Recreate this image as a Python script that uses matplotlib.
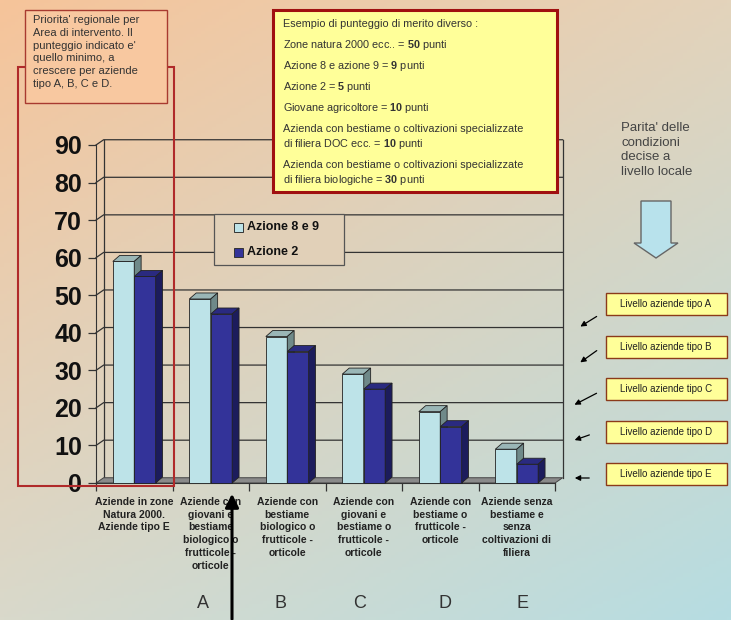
import numpy as np
import matplotlib
matplotlib.use('Agg')
import matplotlib.pyplot as plt
from matplotlib.patches import Rectangle, Polygon
from matplotlib.colors import to_rgb

plt.rcParams['font.family'] = ['Liberation Sans', 'DejaVu Sans']
plt.rcParams['mathtext.fontset'] = 'custom'
plt.rcParams['mathtext.rm'] = 'Liberation Sans'
plt.rcParams['mathtext.bf'] = 'Liberation Sans:bold'

# data
categories = ['Aziende in zone\nNatura 2000.\nAziende tipo E',
              'Aziende con\ngiovani e\nbestiame\nbiologico o\nfrutticole -\norticole',
              'Aziende con\nbestiame\nbiologico o\nfrutticole -\norticole',
              'Aziende con\ngiovani e\nbestiame o\nfrutticole -\norticole',
              'Aziende con\nbestiame o\nfrutticole -\norticole',
              'Aziende senza\nbestiame e\nsenza\ncoltivazioni di\nfiliera']
azione_8_9 = [59, 49, 39, 29, 19, 9]
azione_2 = [55, 45, 35, 25, 15, 5]
series_names = ['Azione 8 e 9', 'Azione 2']
letters = ['A', 'B', 'C', 'D', 'E']
yticks = [0, 10, 20, 30, 40, 50, 60, 70, 80, 90]
livelli = ['Livello aziende tipo A', 'Livello aziende tipo B', 'Livello aziende tipo C',
           'Livello aziende tipo D', 'Livello aziende tipo E']

W, H = 731, 620
fig = plt.figure(figsize=(W / 100, H / 100), dpi=100)

# background gradient (bilinear between the corners)
tl, tr = np.array(to_rgb('#f6c49a')), np.array(to_rgb('#e3d3bb'))
bl, br = np.array(to_rgb('#d9d9cb')), np.array(to_rgb('#b6dde2'))


def bg(x, y):
    u, v = x / W, y / H
    return tuple((1 - u) * (1 - v) * tl + u * (1 - v) * tr + (1 - u) * v * bl + u * v * br)


uu, vv = np.meshgrid(np.linspace(0, 1, 200), np.linspace(0, 1, 200))
img = ((1 - uu) * (1 - vv))[..., None] * tl + (uu * (1 - vv))[..., None] * tr \
    + ((1 - uu) * vv)[..., None] * bl + (uu * vv)[..., None] * br
ax_bg = fig.add_axes([0, 0, 1, 1], zorder=0)
ax_bg.imshow(img, extent=(0, W, H, 0), aspect='auto')
ax_bg.set_xlim(0, W)
ax_bg.set_ylim(H, 0)
ax_bg.axis('off')

# chart axes
x0, x1, y0, y1 = 96, 555, 483, 145
ax = fig.add_axes([x0 / W, (H - y0) / H, (x1 - x0) / W, (y0 - y1) / H], zorder=1)
ax.set_facecolor('none')
ax.set_xlim(0, 6)
ax.set_ylim(0, 90)
dx, dy = 0.1, 1.4
bdx, bdy = 0.09, 1.6
line_c = '#333333'

# back wall, gridlines and floor
for v in yticks[1:]:
    ax.plot([0, dx, 6 + dx], [v, v + dy, v + dy], color=line_c, lw=0.9, clip_on=False, zorder=1)
ax.plot([dx, dx], [dy, 90 + dy], color=line_c, lw=0.9, clip_on=False, zorder=1)
ax.plot([6 + dx, 6 + dx], [dy, 90 + dy], color=line_c, lw=0.9, clip_on=False, zorder=1)
ax.add_patch(Polygon([(0, 0), (6, 0), (6 + dx, dy), (dx, dy)], closed=True,
                     facecolor='#8a8a8a', edgecolor='#444444', lw=0.7, clip_on=False, zorder=2))

# 3d-looking bars
bw = 0.28
styles = [('#bde3e8', '#9ab6b6', '#6f8989'), ('#333399', '#2a2a80', '#1c1c5c')]
for i in range(6):
    for k, vals in enumerate([azione_8_9, azione_2]):
        left = i + 0.22 + k * bw
        h = vals[i]
        front, top, side = styles[k]
        ax.bar(left, h, width=bw, align='edge', color=front, edgecolor='#222222',
               lw=0.6, clip_on=False, zorder=3 + k)
        ax.add_patch(Polygon([(left, h), (left + bw, h), (left + bw + bdx, h + bdy), (left + bdx, h + bdy)],
                             closed=True, facecolor=top, edgecolor='#222222', lw=0.6,
                             clip_on=False, zorder=3 + k))
        ax.add_patch(Polygon([(left + bw, 0), (left + bw + bdx, bdy), (left + bw + bdx, h + bdy), (left + bw, h)],
                             closed=True, facecolor=side, edgecolor='#222222', lw=0.6,
                             clip_on=False, zorder=3 + k))

for s in ['top', 'right']:
    ax.spines[s].set_visible(False)
ax.spines['left'].set_color(line_c)
ax.spines['bottom'].set_color(line_c)
ax.set_yticks(yticks)
ax.set_yticklabels([str(v) for v in yticks], fontsize=18, fontweight='bold', color='#111111')
ax.tick_params(axis='y', direction='out', length=6, width=0.9, color=line_c, pad=4)
ax.set_xticks(range(7))
ax.set_xticklabels([''] * 7)
ax.tick_params(axis='x', which='major', direction='out', length=6, width=0.9, color=line_c)
ax.set_xticks(np.arange(6) + 0.5, minor=True)
ax.set_xticklabels(categories, minor=True, fontsize=7.5, fontweight='bold', color='#222222',
                   linespacing=1.35)
ax.tick_params(axis='x', which='minor', length=0, pad=10)

# overlay in pixel coordinates
ov = fig.add_axes([0, 0, 1, 1], zorder=2)
ov.set_xlim(0, W)
ov.set_ylim(H, 0)
ov.axis('off')
ov.patch.set_visible(False)

# legend
ov.add_patch(Rectangle((214, 214), 130, 51, facecolor=bg(280, 240), edgecolor='#555555', lw=0.9))
for k, name in enumerate(series_names):
    yy = 227 + k * 25
    ov.add_patch(Rectangle((234, yy - 4.5), 9, 9, facecolor=styles[k][0], edgecolor='#333333', lw=0.7))
    ov.text(247, yy, name, fontsize=9, fontweight='bold', color='#111111', va='center')

# red rectangle and its note
red = '#b02a2a'
ov.add_patch(Rectangle((18, 67), 156, 419, facecolor='none', edgecolor=red, lw=1.5, zorder=5))
ov.add_patch(Rectangle((25, 10), 142, 93, facecolor='#f8c8a0', edgecolor='#a83a30', lw=1.0, zorder=6))
ov.text(33, 15, "Priorita' regionale per\nArea di intervento. Il\npunteggio indicato e'\n"
        "quello minimo, a\ncrescere per aziende\ntipo A, B, C e D.",
        fontsize=8, color='#333333', va='top', ha='left', linespacing=1.35, zorder=7)

# yellow box
ov.add_patch(Rectangle((273, 10), 284, 182, facecolor='#ffff99', edgecolor='#a01010', lw=2.2, zorder=6))
lines = [(24, "Esempio di punteggio di merito diverso :"),
         (45, r"Zone natura 2000 ecc.. = $\mathbf{50}$ punti"),
         (66, r"Azione 8 e azione 9 = $\mathbf{9}$ punti"),
         (87, r"Azione 2 = $\mathbf{5}$ punti"),
         (108, r"Giovane agricoltore = $\mathbf{10}$ punti"),
         (129, "Azienda con bestiame o coltivazioni specializzate"),
         (144, r"di filiera DOC ecc. = $\mathbf{10}$ punti"),
         (165, "Azienda con bestiame o coltivazioni specializzate"),
         (180, r"di filiera biologiche = $\mathbf{30}$ punti")]
for yy, t in lines:
    ov.text(283, yy, t, fontsize=7.8, color='#333333', va='center', ha='left', zorder=7)

# right side
ov.text(621, 122, "Parita' delle\ncondizioni\ndecise a\nlivello locale", fontsize=9.5,
        color='#444444', va='top', ha='left', linespacing=1.3)
ov.add_patch(Polygon([(641, 201), (671, 201), (671, 243), (678, 243), (656, 258),
                      (634, 243), (641, 243)], closed=True, facecolor='#b8e2ec',
                     edgecolor='#666666', lw=1.0))

box_y = [304, 347, 389, 432, 474]
arrows = [((599, 315), (578, 328)), ((599, 349), (578, 364)), ((599, 392), (572, 406)),
          ((592, 434), (572, 441)), ((592, 478), (572, 478))]
for yy, lab, (p0, p1) in zip(box_y, livelli, arrows):
    ov.add_patch(Rectangle((606, yy - 11), 121, 22, facecolor='#ffff99', edgecolor='#8b3a1a', lw=1.0))
    ov.text(666, yy, lab, fontsize=7, color='#222222', ha='center', va='center')
    ov.annotate('', xy=p1, xytext=p0,
                arrowprops=dict(arrowstyle='-|>', color='black', lw=0.9, mutation_scale=8))

# letters under categories
for xx, l in zip([203, 281, 360, 445, 522], letters):
    ov.text(xx, 603, l, fontsize=13, color='#333333', ha='center', va='center')

# black arrow pointing to category A
ov.annotate('', xy=(232, 491), xytext=(232, 622),
            arrowprops=dict(arrowstyle='-|>', color='black', lw=2.2, mutation_scale=20))

fig.savefig('out.png', dpi=100)
